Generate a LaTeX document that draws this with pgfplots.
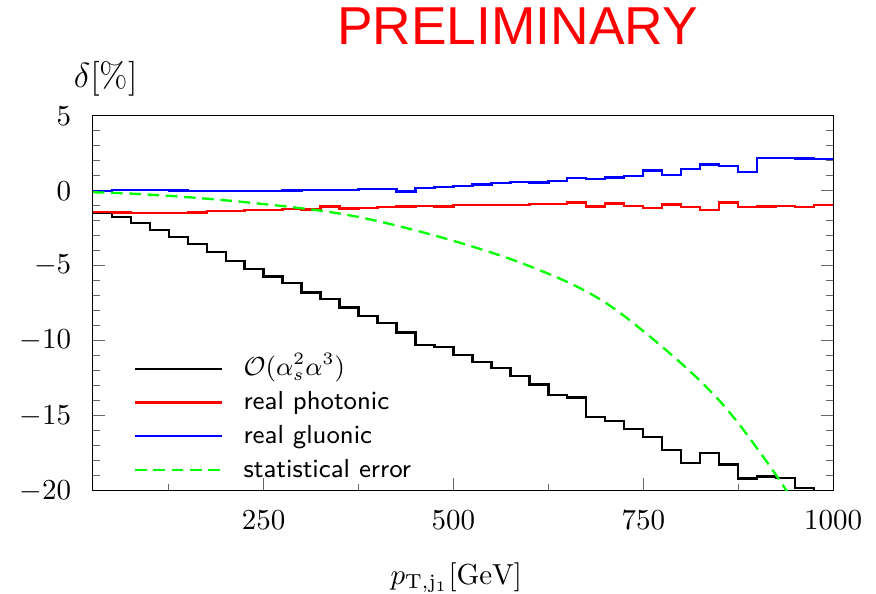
\documentclass[border=0pt]{standalone}
\usepackage{fontspec}
\usepackage{pgfplots}
\pgfplotsset{compat=1.18}
\newfontfamily\prelimfont{Liberation Sans}

% relative corrections per 25 GeV bin, x = lower bin edge
\pgfplotstableread{
x     y
25    -1.50
50    -1.77
75    -2.17
100   -2.61
125   -3.06
150   -3.57
175   -4.06
200   -4.66
225   -5.21
250   -5.72
275   -6.17
300   -6.79
325   -7.23
350   -7.79
375   -8.34
400   -8.83
425   -9.45
450   -10.28
475   -10.43
500   -10.94
525   -11.39
550   -11.83
575   -12.34
600   -12.90
625   -13.61
650   -13.78
675   -15.07
700   -15.33
725   -15.89
750   -16.43
775   -17.27
800   -18.13
825   -17.49
850   -18.23
875   -19.17
900   -19.05
925   -19.16
950   -19.82
975   -20.50
1000  -20.50
}\tabfull

\pgfplotstableread{
x     y
25    -1.42
50    -1.44
75    -1.50
100   -1.50
125   -1.47
150   -1.46
175   -1.36
200   -1.35
225   -1.29
250   -1.28
275   -1.21
300   -1.24
325   -1.06
350   -1.19
375   -1.13
400   -1.08
425   -1.06
450   -1.02
475   -1.06
500   -0.96
525   -0.96
550   -0.96
575   -0.96
600   -0.88
625   -0.88
650   -0.79
675   -1.06
700   -0.84
725   -1.00
750   -1.13
775   -0.91
800   -1.08
825   -1.30
850   -0.79
875   -1.10
900   -1.04
925   -1.00
950   -1.10
975   -0.95
1000  -0.95
}\tabphot

\pgfplotstableread{
x     y
25    -0.02
50    0.04
75    0.04
100   0.03
125   0.01
150   0.00
175   0.00
200   0.00
225   0.00
250   0.00
275   0.01
300   0.05
325   0.04
350   0.05
375   0.11
400   0.12
425   -0.05
450   0.16
475   0.24
500   0.32
525   0.42
550   0.52
575   0.58
600   0.54
625   0.66
650   0.83
675   0.78
700   0.89
725   0.98
750   1.34
775   1.05
800   1.43
825   1.74
850   1.65
875   1.27
900   2.20
925   2.16
950   2.14
975   2.12
1000  2.12
}\tabgluon

\pgfplotstableread{
x     y
25    -0.10
50    -0.14
75    -0.19
100   -0.26
125   -0.34
150   -0.43
175   -0.53
200   -0.64
225   -0.76
250   -0.89
275   -1.02
300   -1.17
325   -1.33
350   -1.52
375   -1.75
400   -2.02
425   -2.32
450   -2.64
475   -2.98
500   -3.34
525   -3.72
550   -4.12
575   -4.55
600   -5.02
625   -5.53
650   -6.08
675   -6.71
700   -7.45
725   -8.35
750   -9.35
775   -10.40
800   -11.50
825   -12.67
850   -13.97
875   -15.47
900   -17.17
925   -18.95
950   -20.85
}\tabstat

\begin{document}
\begin{tikzpicture}
\begin{axis}[
  scale only axis,
  width=255.3pt, height=129.4pt,
  xmin=25, xmax=1000,
  ymin=-20, ymax=5,
  xtick={250,500,750,1000},
  minor xtick={125,375,625,875},
  ytick={-20,-15,-10,-5,0,5},
  minor y tick num=4,
  xtick pos=left,
  ytick pos=both,
  tick align=inside,
  major tick length=4.3pt,
  minor tick length=2.4pt,
  tick style={black!60, line width=0.4pt},
  /pgf/number format/1000 sep={},
  yticklabel style={xshift=-3.9pt},
  xticklabel style={yshift=-3.2pt},
  xlabel={$p_{\mathrm{T,j_1}}[\mathrm{GeV}]$},
  ylabel={$\delta[\%]$},
  every axis x label/.style={at={(axis description cs:0.5,0)}, anchor=base,
    yshift=-32.2pt, xshift=-2.3pt},
  every axis y label/.style={at={(axis description cs:0,1)}, anchor=base west,
    inner sep=0pt, xshift=-6.7pt, yshift=9.7pt, font=\large},
  legend image code/.code={\draw[#1] (0pt,0pt) -- (29.9pt,0pt);},
  legend cell align=left,
  legend style={draw=none, fill=none, inner sep=0pt,
    at={(axis description cs:0,0)}, anchor=south west,
    xshift=14pt, yshift=2.5pt,
    font=\sffamily\fontsize{9}{11}\selectfont,
    row sep=2.65pt, column sep=7.1pt,
    nodes={inner sep=0pt, text height=7pt, text depth=2pt}},
]
\addplot[const plot, black, line width=0.8pt] table {\tabfull};
\addlegendentry{$\mathcal{O}(\alpha_s^2\alpha^3)$}
\addplot[const plot, red, line width=0.8pt] table {\tabphot};
\addlegendentry{real photonic}
\addplot[const plot, blue, line width=0.8pt] table {\tabgluon};
\addlegendentry{real gluonic}
\addplot[smooth, green, line width=0.8pt, dash pattern=on 4pt off 2.3pt] table {\tabstat};
\addlegendentry{statistical error}

\coordinate (sw) at (rel axis cs:0,0);
\coordinate (ne) at (rel axis cs:1,1);
\coordinate (nw) at (rel axis cs:0,1);
\end{axis}

\node[anchor=base, inner sep=0pt, text=red,
  font=\prelimfont\fontsize{18.4}{22}\selectfont]
  at ([shift={(146.5pt,24.4pt)}]nw) {PRELIMINARY};

\pgfresetboundingbox
\path[use as bounding box] ([shift={(-32pt,-35.5pt)}]sw) rectangle ([shift={(14.8pt,39.9pt)}]ne);
\end{tikzpicture}
\end{document}
